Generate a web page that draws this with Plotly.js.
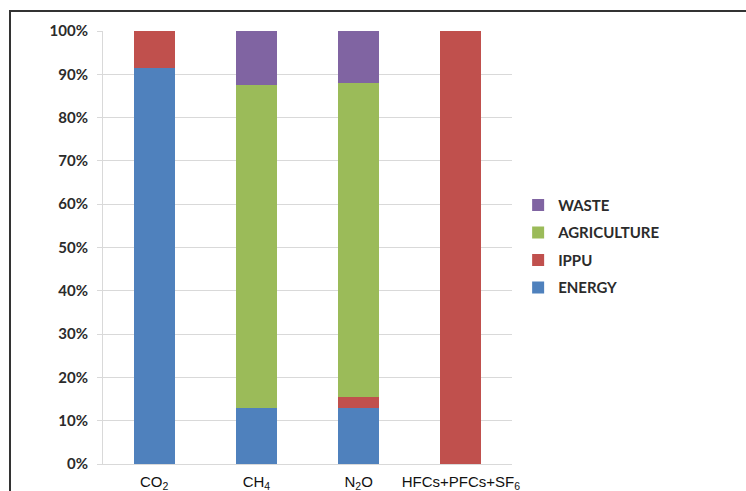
<!DOCTYPE html>
<html>
<head>
<meta charset="utf-8">
<script src="https://cdn.plot.ly/plotly-3.0.1.min.js"></script>
<style>
  html, body { margin: 0; padding: 0; background: #fff; }
  #wrap { position: relative; width: 746px; height: 491px; overflow: hidden; }
  #chart { position: absolute; left: 0; top: 0; width: 746px; height: 491px; }
  #frame { position: absolute; left: 9px; top: 10px; right: -5px; bottom: -5px;
           border-top: 2px solid #333; border-left: 2px solid #333; pointer-events: none; }
</style>
</head>
<body>
<div id="wrap">
  <div id="chart"></div>
  <div id="frame"></div>
</div>
<script>
const categories = ["CO<sub>2</sub>", "CH<sub>4</sub>", "N<sub>2</sub>O", "HFCs+PFCs+SF<sub>6</sub>"];
const energy      = [91.5, 13.0, 13.0, 0];
const ippu        = [8.5, 0, 2.4, 100];
const agriculture = [0, 74.5, 72.7, 0];
const waste       = [0, 12.5, 11.9, 0];
const yTickVals   = [0, 10, 20, 30, 40, 50, 60, 70, 80, 90, 100];
const yTickText   = ["0%", "10%", "20%", "30%", "40%", "50%", "60%", "70%", "80%", "90%", "100%"];

const series = [
  {name: "ENERGY", y: energy, color: "#4F81BD", rank: 4},
  {name: "IPPU", y: ippu, color: "#C0504D", rank: 3},
  {name: "AGRICULTURE", y: agriculture, color: "#9BBB59", rank: 2},
  {name: "WASTE", y: waste, color: "#8064A2", rank: 1}
];

const traces = series.map(s => ({
  type: "bar",
  name: s.name,
  x: categories,
  y: s.y,
  legendgroup: s.name,
  legendrank: s.rank,
  marker: {color: s.color, line: {width: 0}},
  width: 0.4
}));

const layout = {
  width: 746, height: 491,
  margin: {l: 103, r: 234, t: 31, b: 27},
  paper_bgcolor: "#fff", plot_bgcolor: "#fff",
  barmode: "stack",
  showlegend: true,
  legend: {
    x: 1.015, y: 0.503, xanchor: "left", yanchor: "middle",
    traceorder: "grouped", tracegroupgap: 5,
    font: {family: "Lato, 'Open Sans', sans-serif", size: 15, color: "#2b2b2b", weight: "bold"},
    itemwidth: 30
  },
  xaxis: {
    type: "category", range: [-0.5, 3.5],
    showgrid: false, showline: true, linecolor: "#d9d9d9", linewidth: 1,
    ticks: "", zeroline: false, ticklabelstandoff: 4,
    tickfont: {family: "'Liberation Sans Narrow', 'Liberation Sans', Arial, sans-serif", size: 15, color: "#111"}
  },
  yaxis: {
    range: [0, 100], tickvals: yTickVals, ticktext: yTickText,
    showgrid: true, gridcolor: "#d9d9d9", gridwidth: 1,
    showline: true, linecolor: "#d9d9d9", linewidth: 1,
    ticks: "outside", ticklen: 5, tickcolor: "#d9d9d9",
    zeroline: false, ticklabelstandoff: 6,
    tickfont: {family: "Lato, 'Open Sans', sans-serif", size: 15, color: "#2b2b2b", weight: "bold"}
  }
};

Plotly.newPlot("chart", traces, layout, {displayModeBar: false, staticPlot: true});
</script>
</body>
</html>
